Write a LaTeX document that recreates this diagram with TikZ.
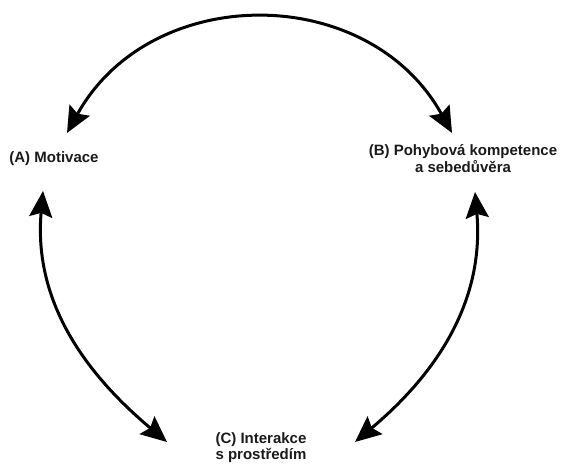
\documentclass[tikz,border=0pt]{standalone}
\usepackage{fontspec}
\setmainfont{Liberation Sans}
\usetikzlibrary{arrows.meta}
\definecolor{txt}{HTML}{1A1A1A}
\tikzset{
  lbl/.style={font=\bfseries\fontsize{15}{17}\selectfont, text=txt, inner sep=0pt, align=center, anchor=base},
  dbl/.style={line width=3pt, draw=black, {Stealth[length=26pt,width=23pt,inset=4pt]}-{Stealth[length=26pt,width=23pt,inset=4pt]}}
}
\begin{document}
\begin{tikzpicture}[x=1pt,y=1pt]
\useasboundingbox (0,0) rectangle (562,464);
\node[lbl] (A) at (54,301) {(A) Motivace};
\node[lbl] (B) at (463,291) {(B) Pohybová kompetence\\a sebedůvěra};
\node[lbl, font=\bfseries\fontsize{15}{16}\selectfont] (C) at (261,5) {(C) Interakce\\s prostředím};
\coordinate (tA1) at (67,331);
\coordinate (tB1) at (452,331);
\coordinate (tA2) at (43,273);
\coordinate (tC1) at (167,22);
\coordinate (tB2) at (475,272);
\coordinate (tC2) at (355,22);
\draw[dbl] (tA1) to[out=61,in=119,looseness=1.15] (tB1);
\draw[dbl] (tA2) to[out=265,in=140] (tC1);
\draw[dbl] (tB2) to[out=275,in=40] (tC2);
\end{tikzpicture}
\end{document}
